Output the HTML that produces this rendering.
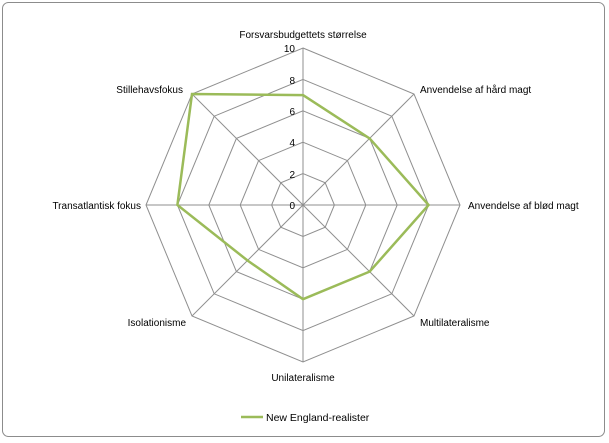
<!DOCTYPE html>
<html><head><meta charset="utf-8"><style>
html,body{margin:0;padding:0;background:#fff;}
svg{display:block;font-family:"Liberation Sans",sans-serif;}
</style></head><body>
<svg width="609" height="443" viewBox="0 0 609 443">
<rect x="2.5" y="2.5" width="602" height="434" rx="6" fill="#fff" stroke="#8c8c8c" stroke-width="1"/>
<g fill="none" stroke="#8f8f8f" stroke-width="1">
<polygon points="303,173.6 325.2,182.8 334.4,205 325.2,227.2 303,236.4 280.8,227.2 271.6,205 280.8,182.8"/>
<polygon points="303,142.2 347.4,160.6 365.8,205 347.4,249.4 303,267.8 258.6,249.4 240.2,205 258.6,160.6"/>
<polygon points="303,110.8 369.6,138.4 397.2,205 369.6,271.6 303,299.2 236.4,271.6 208.8,205 236.4,138.4"/>
<polygon points="303,79.4 391.8,116.2 428.6,205 391.8,293.8 303,330.6 214.2,293.8 177.4,205 214.2,116.2"/>
<polygon points="303,48 414,94 460,205 414,316 303,362 192,316 146,205 192,94"/>
<line x1="303" y1="205" x2="303" y2="48"/>
<line x1="303" y1="205" x2="414" y2="94"/>
<line x1="303" y1="205" x2="460" y2="205"/>
<line x1="303" y1="205" x2="414" y2="316"/>
<line x1="303" y1="205" x2="303" y2="362"/>
<line x1="303" y1="205" x2="192" y2="316"/>
<line x1="303" y1="205" x2="146" y2="205"/>
<line x1="303" y1="205" x2="192" y2="94"/>
</g>
<polygon points="303,95.1 369.6,138.4 428.6,205 369.6,271.6 303,299.2 247.5,260.5 177.4,205 192,94" fill="none" stroke="#9bbb59" stroke-width="2.5" stroke-linejoin="miter"/>
<g font-size="10" fill="#000" text-anchor="end">
<text x="295" y="209">0</text>
<text x="295" y="178">2</text>
<text x="295" y="146">4</text>
<text x="295" y="115">6</text>
<text x="295" y="84">8</text>
<text x="295" y="52">10</text>
</g>
<g font-size="10" fill="#000">
<text x="303" y="38" text-anchor="middle">Forsvarsbudgettets størrelse</text>
<text x="420" y="93">Anvendelse af hård magt</text>
<text x="468" y="209">Anvendelse af blød magt</text>
<text x="420" y="326">Multilateralisme</text>
<text x="303" y="381" text-anchor="middle">Unilateralisme</text>
<text x="186" y="326" text-anchor="end">Isolationisme</text>
<text x="141" y="209" text-anchor="end">Transatlantisk  fokus</text>
<text x="183" y="93" text-anchor="end">Stillehavsfokus</text>
</g>
<line x1="241" y1="417" x2="263" y2="417" stroke="#9bbb59" stroke-width="2.5"/>
<text x="266" y="421" font-size="10.5" fill="#000">New England-realister</text>
</svg>
</body></html>
